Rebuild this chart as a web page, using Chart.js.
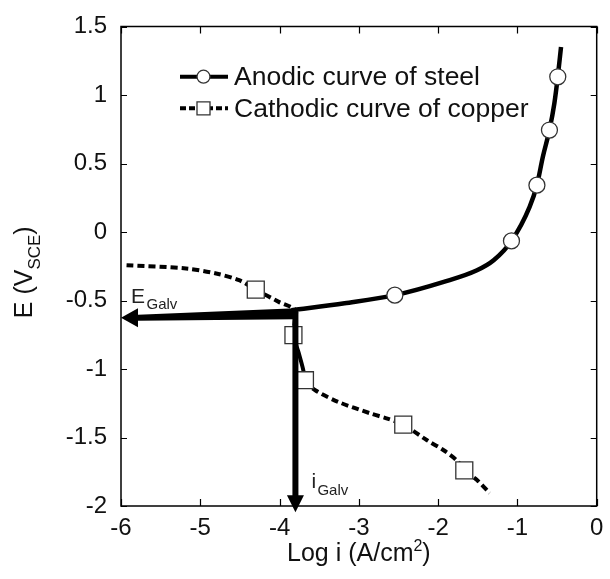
<!DOCTYPE html>
<html>
<head>
<meta charset="utf-8">
<script src="https://cdn.jsdelivr.net/npm/chart.js@4.4.1/dist/chart.umd.min.js"></script>
<style>
  html, body { margin: 0; padding: 0; background: #fff; }
  #wrap { width: 610px; height: 579px; }
</style>
</head>
<body>
<div id="wrap"><canvas id="c" width="610" height="579"></canvas></div>
<script>
const FONT = '"Liberation Sans", Arial, Helvetica, sans-serif';

// Anodic polarisation curve of steel: log i (A/cm2) and E (V vs SCE)
const steelLogI = [-3.85, -3.18, -2.546, -1.929, -1.51, -1.30, -1.075, -0.846, -0.754, -0.679, -0.596, -0.534, -0.491, -0.45];
const steelE    = [-0.571, -0.52, -0.461, -0.364, -0.279, -0.206, -0.065, 0.184, 0.342, 0.549, 0.744, 0.939, 1.133, 1.35];
const steelMarkLogI = [-2.546, -1.075, -0.754, -0.596, -0.491];
const steelMarkE    = [-0.461, -0.065, 0.342, 0.744, 1.133];

// Cathodic polarisation curve of copper
const copperLogI = [-5.93, -5.18, -4.80, -4.51, -4.30, -4.01, -3.80, -3.81, -3.825, -3.76, -3.70, -3.68, -3.55, -3.26, -2.85, -2.64, -2.44, -2.14, -1.93, -1.76, -1.67, -1.51, -1.35];
const copperE    = [-0.242, -0.266, -0.303, -0.352, -0.42, -0.51, -0.571, -0.66, -0.753, -0.88, -1.01, -1.082, -1.155, -1.24, -1.325, -1.362, -1.406, -1.52, -1.593, -1.67, -1.74, -1.81, -1.905];
const copperMarkLogI = [-4.30, -3.825, -3.68, -2.44, -1.67];
const copperMarkE    = [-0.42, -0.753, -1.082, -1.406, -1.74];

// Galvanic couple: arrows from the crossing point to each axis
const galvLogI = -3.8;
const galvE = -0.596;
const eArrowEnd = [-6, -0.625];     // towards the potential axis
const iArrowEnd = [-3.8, -2.045];   // towards the current axis

// Axis ticks and labels
const xTickValues = [-6, -5, -4, -3, -2, -1, 0];
const xTickLabels = ['-6', '-5', '-4', '-3', '-2', '-1', '0'];
const yTickValues = [1.5, 1, 0.5, 0, -0.5, -1, -1.5, -2];
const yTickLabels = ['1.5', '1', '0.5', '0', '-0.5', '-1', '-1.5', '-2'];

const legendNames = ['Anodic curve of steel', 'Cathodic curve of copper'];

const pts = (xs, ys) => xs.map((v, i) => ({ x: v, y: ys[i] }));
const DASH = [7, 4];

function richText(ctx, parts, x, y, rot) {
  ctx.save();
  ctx.translate(x, y);
  ctx.rotate(rot);
  let total = 0;
  parts.forEach(p => { ctx.font = p.size + 'px ' + FONT; p.w = ctx.measureText(p.t).width; total += p.w; });
  let cx = -total / 2;
  ctx.textBaseline = 'alphabetic';
  ctx.textAlign = 'left';
  parts.forEach(p => { ctx.font = p.size + 'px ' + FONT; ctx.fillText(p.t, cx, p.dy || 0); cx += p.w; });
  ctx.restore();
}

function drawMarker(ctx, kind, px, py, r) {
  ctx.beginPath();
  if (kind === 'circle') ctx.arc(px, py, r, 0, Math.PI * 2);
  else ctx.rect(px - r, py - r, 2 * r, 2 * r);
  ctx.fillStyle = '#fff';
  ctx.fill();
  ctx.lineWidth = 1.3;
  ctx.strokeStyle = '#333';
  ctx.stroke();
}

const decor = {
  id: 'decor',
  afterDatasetsDraw(chart) {
    const { ctx, chartArea: a, scales: { x, y } } = chart;
    ctx.save();

    // frame and inward ticks
    ctx.strokeStyle = '#000';
    ctx.lineWidth = 1.5;
    ctx.strokeRect(a.left, a.top, a.right - a.left, a.bottom - a.top);
    ctx.lineWidth = 1.2;
    ctx.beginPath();
    xTickValues.forEach(v => {
      const px = Math.round(x.getPixelForValue(v)) + 0.5;
      ctx.moveTo(px, a.bottom); ctx.lineTo(px, a.bottom - 7);
      ctx.moveTo(px, a.top); ctx.lineTo(px, a.top + 7);
    });
    yTickValues.forEach(v => {
      const py = Math.round(y.getPixelForValue(v)) + 0.5;
      ctx.moveTo(a.left, py); ctx.lineTo(a.left + 6, py);
      ctx.moveTo(a.right, py); ctx.lineTo(a.right - 6, py);
    });
    ctx.stroke();

    // E_Galv arrow (tapered shaft + head)
    const gx = x.getPixelForValue(galvLogI), gy = y.getPixelForValue(galvE);
    const ex = x.getPixelForValue(eArrowEnd[0]), ey = y.getPixelForValue(eArrowEnd[1]);
    const headL = 17, headW = 9.5;
    const bx = ex + headL;
    ctx.fillStyle = '#000';
    ctx.beginPath();
    ctx.moveTo(gx, gy - 5.5);
    ctx.lineTo(bx, ey - 3);
    ctx.lineTo(bx, ey + 3);
    ctx.lineTo(gx, gy + 5.5);
    ctx.closePath();
    ctx.fill();
    ctx.beginPath();
    ctx.moveTo(ex, ey);
    ctx.lineTo(bx, ey - headW);
    ctx.lineTo(bx, ey + headW);
    ctx.closePath();
    ctx.fill();

    // i_Galv arrow
    const vx = x.getPixelForValue(iArrowEnd[0]), vy = y.getPixelForValue(iArrowEnd[1]);
    const vTop = y.getPixelForValue(-0.58);
    ctx.fillRect(vx - 3, vTop, 6, vy - headL - vTop + 1);
    ctx.beginPath();
    ctx.moveTo(vx, vy);
    ctx.lineTo(vx - 8.5, vy - headL);
    ctx.lineTo(vx + 8.5, vy - headL);
    ctx.closePath();
    ctx.fill();

    // arrow captions
    ctx.fillStyle = '#222';
    ctx.textAlign = 'left';
    ctx.textBaseline = 'alphabetic';
    ctx.font = '21px ' + FONT;
    ctx.fillText('E', a.left + 10, gy - 11);
    ctx.font = '15px ' + FONT;
    ctx.fillText('Galv', a.left + 25.5, gy - 5);
    ctx.font = '21px ' + FONT;
    ctx.fillText('i', vx + 16, y.getPixelForValue(-1.87));
    ctx.font = '15px ' + FONT;
    ctx.fillText('Galv', vx + 22, y.getPixelForValue(-1.92));

    // legend
    const lx0 = 180, lx1 = 228, lm = 203.5, lt = 234;
    const rows = [76.7, 108.3];
    ctx.strokeStyle = '#000';
    ctx.lineWidth = 4;
    ctx.beginPath(); ctx.moveTo(lx0, rows[0]); ctx.lineTo(lx1, rows[0]); ctx.stroke();
    drawMarker(ctx, 'circle', lm, rows[0], 6.5);
    ctx.setLineDash([6, 3]);
    ctx.lineWidth = 4;
    ctx.strokeStyle = '#000';
    ctx.beginPath(); ctx.moveTo(lx0, rows[1]); ctx.lineTo(lx1, rows[1]); ctx.stroke();
    ctx.setLineDash([]);
    drawMarker(ctx, 'rect', lm, rows[1], 6.5);
    ctx.fillStyle = '#111';
    ctx.font = '26.5px ' + FONT;
    ctx.textBaseline = 'middle';
    legendNames.forEach((n, i) => ctx.fillText(n, lt, rows[i] + 1));

    // axis titles
    ctx.fillStyle = '#111';
    richText(ctx, [{ t: 'Log i (A/cm', size: 25 }, { t: '2', size: 16, dy: -10 }, { t: ')', size: 25 }],
      (a.left + a.right) / 2, 561, 0);
    richText(ctx, [{ t: 'E (V', size: 25 }, { t: 'SCE', size: 17, dy: 8 }, { t: ')', size: 25 }],
      32, (a.top + a.bottom) / 2 + 6, -Math.PI / 2);

    ctx.restore();
  }
};

new Chart(document.getElementById('c'), {
  type: 'line',
  data: {
    datasets: [
      {
        label: legendNames[0] + ' markers',
        data: pts(steelMarkLogI, steelMarkE),
        showLine: false,
        pointStyle: 'circle',
        pointRadius: 8,
        pointBackgroundColor: '#fff',
        pointBorderColor: '#333',
        pointBorderWidth: 1.3,
        order: 0
      },
      {
        label: legendNames[1] + ' markers',
        data: pts(copperMarkLogI, copperMarkE),
        showLine: false,
        pointStyle: 'rect',
        pointRadius: 12,
        pointBackgroundColor: '#fff',
        pointBorderColor: '#333',
        pointBorderWidth: 1.3,
        order: 0
      },
      {
        label: legendNames[0],
        data: pts(steelLogI, steelE),
        borderColor: '#000',
        borderWidth: 4.5,
        pointRadius: 0,
        cubicInterpolationMode: 'monotone',
        order: 1
      },
      {
        label: legendNames[1],
        data: pts(copperLogI, copperE),
        borderColor: '#000',
        borderWidth: 4,
        borderDash: DASH,
        pointRadius: 0,
        tension: 0.3,
        segment: {
          borderDash: c => (c.p0DataIndex >= 8 && c.p0DataIndex < 11) ? [] : DASH
        },
        order: 1
      }
    ]
  },
  options: {
    responsive: false,
    animation: false,
    events: [],
    layout: { padding: { top: 26.5, right: 9, left: 0, bottom: 0 } },
    plugins: { legend: { display: false }, tooltip: { enabled: false } },
    scales: {
      x: {
        type: 'linear',
        min: -6, max: 0,
        afterBuildTicks: s => { s.ticks = xTickValues.map(v => ({ value: v })); },
        afterFit: s => { s.height = 73; s.paddingLeft = 0; s.paddingRight = 0; },
        grid: { display: false, drawTicks: true, tickLength: 8 },
        border: { display: false },
        ticks: {
          padding: 0,
          color: '#111',
          font: { family: FONT, size: 24 },
          maxRotation: 0,
          callback: v => xTickLabels[xTickValues.indexOf(v)]
        }
      },
      y: {
        type: 'linear',
        min: -2, max: 1.5,
        afterBuildTicks: s => { s.ticks = yTickValues.map(v => ({ value: v })); },
        afterFit: s => { s.width = 121; s.paddingTop = 0; s.paddingBottom = 0; },
        grid: { display: false, drawTicks: true, tickLength: 14 },
        border: { display: false },
        ticks: {
          padding: 0,
          color: '#111',
          font: { family: FONT, size: 24 },
          callback: v => yTickLabels[yTickValues.indexOf(v)]
        }
      }
    }
  },
  plugins: [decor]
});
</script>
</body>
</html>
